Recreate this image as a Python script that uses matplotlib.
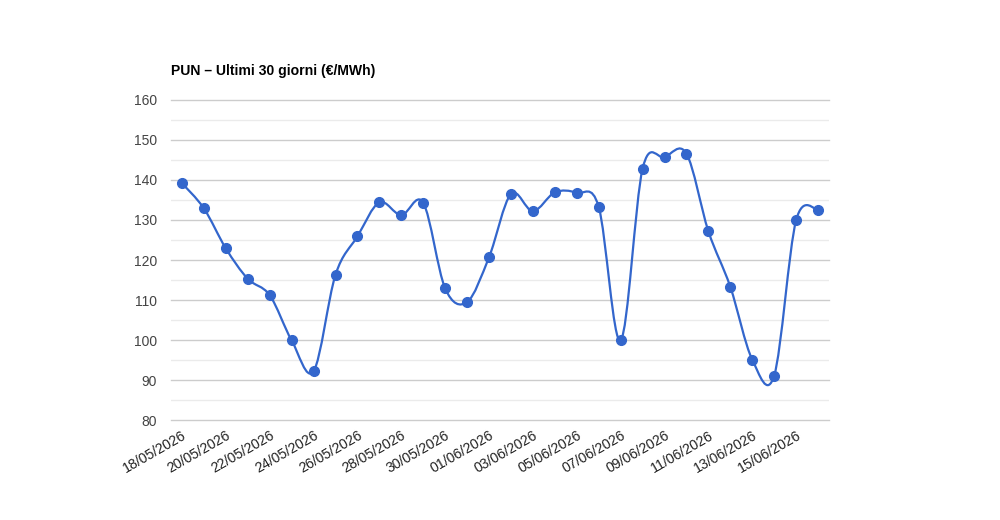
import numpy as np
import matplotlib
matplotlib.use("Agg")
import matplotlib.pyplot as plt
from matplotlib.path import Path
from matplotlib.patches import PathPatch

plt.rcParams['font.family'] = ['Liberation Sans', 'DejaVu Sans']

# dati PUN giornaliero (€/MWh), 18/05/2026 -> 16/06/2026
dates = ["18/05/2026", "19/05/2026", "20/05/2026", "21/05/2026", "22/05/2026",
         "23/05/2026", "24/05/2026", "25/05/2026", "26/05/2026", "27/05/2026",
         "28/05/2026", "29/05/2026", "30/05/2026", "31/05/2026", "01/06/2026",
         "02/06/2026", "03/06/2026", "04/06/2026", "05/06/2026", "06/06/2026",
         "07/06/2026", "08/06/2026", "09/06/2026", "10/06/2026", "11/06/2026",
         "12/06/2026", "13/06/2026", "14/06/2026", "15/06/2026", "16/06/2026"]
pun = [139.2, 132.9, 122.9, 115.3, 111.2, 99.9, 92.2, 116.3, 125.9, 134.4,
       131.2, 134.3, 112.9, 109.5, 120.7, 136.5, 132.2, 136.9, 136.8, 133.3,
       99.9, 142.8, 145.7, 146.6, 127.2, 113.3, 95.1, 91.1, 129.9, 132.6]
y_ticks = [80, 90, 100, 110, 120, 130, 140, 150, 160]

blue = "#3366cc"
x = np.arange(len(pun), dtype=float)
y = np.array(pun)

fig = plt.figure(figsize=(10, 5.2), dpi=100)
ax = fig.add_axes([0.171, 0.1923, 0.658, 0.6154])

# curva smussata (bezier tipo catmull-rom)
k = 1 / 6
verts = [(x[0], y[0])]
codes = [Path.MOVETO]
n = len(x)
for i in range(n - 1):
    p0 = (x[max(i - 1, 0)], y[max(i - 1, 0)])
    p1 = (x[i], y[i])
    p2 = (x[i + 1], y[i + 1])
    p3 = (x[min(i + 2, n - 1)], y[min(i + 2, n - 1)])
    c1 = (p1[0] + (p2[0] - p0[0]) * k, p1[1] + (p2[1] - p0[1]) * k)
    c2 = (p2[0] - (p3[0] - p1[0]) * k, p2[1] - (p3[1] - p1[1]) * k)
    verts += [c1, c2, p2]
    codes += [Path.CURVE4] * 3
ax.add_patch(PathPatch(Path(verts, codes), facecolor="none", edgecolor=blue,
                       lw=1.6, zorder=3, capstyle="round", joinstyle="round"))
ax.plot(x, y, "o", color=blue, markersize=7, zorder=4, clip_on=False)

ax.set_xlim(-0.5, n - 0.5)
ax.set_ylim(80, 160)
ax.set_yticks(y_ticks)
ax.set_yticks(np.arange(85, 160, 10), minor=True)
ax.grid(axis="y", which="major", color="#cccccc", lw=1)
ax.grid(axis="y", which="minor", color="#ebebeb", lw=1)
for gl in ax.get_ygridlines():
    gl.set_clip_on(False)
ax.set_axisbelow(True)
for s in ax.spines.values():
    s.set_visible(False)
ax.tick_params(axis="y", which="both", length=0, pad=10, labelsize=10, labelcolor="#444444")
ax.tick_params(axis="x", length=0, pad=6, labelsize=10.2, labelcolor="#222222")

ax.set_xticks(x[::2])
ax.set_xticklabels(dates[::2], rotation=30, ha="right", rotation_mode="anchor")

fig.text(0.171, 0.855, "PUN – Ultimi 30 giorni (€/MWh)", fontsize=10.1,
         fontweight="bold", color="#000000", ha="left", va="baseline")

fig.savefig("out.png", dpi=100, facecolor="white")
